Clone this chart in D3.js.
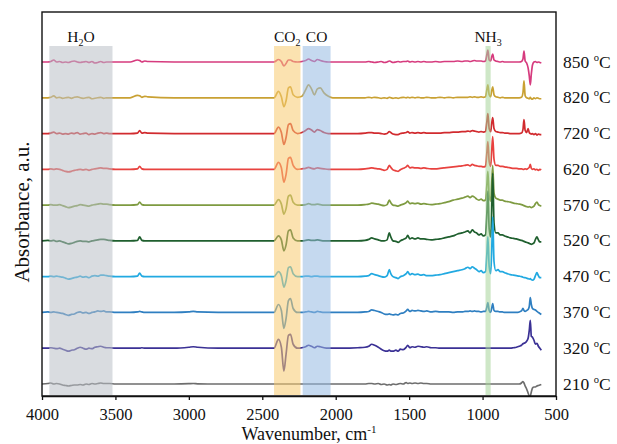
<!DOCTYPE html>
<html><head><meta charset="utf-8">
<script src="https://cdn.jsdelivr.net/npm/d3@7"></script>
<style>
body{margin:0;background:#fff}
svg{display:block}
text{font-family:"Liberation Serif","Times New Roman",serif;fill:#111}
</style>
</head><body>
<svg id="chart" width="617" height="444"></svg>
<script>
// ---- data ----
const wavenumbers = [4000,3960,3940,3920,3900,3880,3860,3840,3820,3800,3780,3760,3740,3720,3700,3680,3660,3640,3620,3600,3580,3560,3540,3500,
  3400,3350,3335,3320,3300,3280,3100,3000,2970,2940,2800,2500,
  2420,2390,2370,2353,2338,2322,2308,2290,2260,
  2230,2205,2185,2165,2145,2125,2105,2080,2050,2020,
  1950,1850,1800,1775,1755,1735,1710,1690,1670,1650,1635,1625,1610,1590,1575,1560,1540,1520,1510,1495,1480,1460,1440,1420,1400,1380,1350,1320,1290,1260,1230,1200,1170,1140,1120,1100,1085,1070,1055,1040,1025,1010,995,
  980,970,964,955,945,938,931,922,910,895,880,865,850,830,810,790,770,750,735,725,718,710,700,690,682,675,668,660,650,640,630,620,610,600];

const temperatures = ["210","320","370","470","520","570","620","720","820","850"];

const s210 = [0,0.5,1,0,0.5,0,-1,-1.5,-2,-1.5,-1,-1,-0.5,-1,0,-0.5,0.5,0,0.5,1,0.5,0.5,0.5,0,
  0,0,0,0,0,0,0,0.3,0.5,0.2,0,0,
  0,0,0,0,0,0,0,0,0,
  0,0,0,0,0,0,0,0,0,0,
  0,0,0,0.5,0.5,0,0.5,-0.5,0,-1,-0.5,-1,0,-0.5,0,0.5,0,1.5,0.5,1,0.5,1,0.5,1,0.5,0.5,0,0,0,0,0,0,0,0,0,0,0,0,0,0,0,0,0,
  0,0,0,0,0,0,0,0,0,0,0,0,0,0,0,0,0,0,1,2.5,1,-2,-5,-9,-12,-12,-8,-4,-3,-3,-2,-1.5,-1,-0.5];
const s320 = [0,0,0.5,0,-0.5,0,-1,-2,-3,-2,-1.5,0,1,0,-1,0,-0.5,1,1.5,2,1,0.5,0.5,0,
  0,0,0,0.5,0,0,0,1,1.5,1,0,0,
  0,9,1,-23,-6,13,14,4,0,
  0.5,1.5,3,2,0.5,2,1.5,0.5,0,0,
  0,0.5,1,2,4,3,1,-1,-2.5,-3,-2,-3,-3,-2,-3,-1,-1.5,1,3,0.5,1.5,1,2,1.5,1,1.5,0.5,0.5,0,0,0,0,0,0,0,0,0,0,0,0,0,0,0,
  0,0,0,0,0,0,0,0,0,0,0,0,0,0,0,0.5,1,2,3,4.5,5,5.5,7,10,18,28,12,11,8,4,5,2,0,-2];
const s370 = [0,0.5,0,0.5,0,-0.5,-1,-2,-3,-2,-1.5,0,0.5,-0.5,0,-1,0,0.5,1.5,1,1.5,0.5,0.5,0,
  0,0.5,1,0.5,0,0,0,0.5,1,0.5,0,0,
  0,8,2,-16,-6,12,14,4,0,
  0,0.5,1,0.5,0,1,0.5,0,0,0,
  0,0,0.5,1,2.5,2,1,0,-1.5,-2,-1.5,-2,-2.5,-2,-2.5,-1,-0.5,1.5,3,1,2,1.5,2,1.5,1,1.5,0.5,1,0.5,0.5,0.5,0,0.5,0.5,1,1,1.5,1,1.5,1,1,0.5,1,
  1,6,10,2,0,4,9,2,1,1,0.5,0.5,0,0,0,0,0,0.5,1.5,4,2,1,2,3,6,15,8,4,3,2.5,1,0,-1,-2];
const s470 = [0,0,0.5,0,0.5,0,-0.5,-1.5,-2.5,-2,-1,-0.5,0.5,-0.5,0,-1,0.5,1,0.5,1.5,1.5,1,0.5,0,
  0,0.5,3.5,0.5,0,0,0,0,0,0,0,0,
  0,5,1,-10.5,-4,9,10,3,0,
  0,0.5,0.5,0,0.5,0.5,0,0,0,0,
  0,0,0.5,1,3,2,1,0,-0.5,1,7,3,0,-1,-2,0,1,3,5,2,3,2,2.5,1.5,2,1,1,1.5,2,3,4,5,6,7,8,9.5,8,10,8.5,7,5,6,4,
  5,25,40,10,3,25,60,15,6,7,5,5,4,3,2,1.5,1,0.5,0,-0.5,-1,-1,-1.5,-2,-2.5,-2,-3,-3.5,-2.5,1,4,1,-1,-1];
const s520 = [0,0.5,0,0.5,-0.5,0,-1,-2,-3,-2.5,-1.5,-0.5,0,-0.5,-0.5,-1,0,0.5,1,1.5,1.5,1,0.5,0,
  0,0.5,4,0.5,0,0,0,0,0,0,0,0,
  0,5,1,-10,-4,10,11,3,0,
  0,0.5,1,0.5,0.5,1,0.5,0,0,0,
  0,0,0.5,1.5,3,2,1,0,0,1,8,4,0,-0.5,-1.5,0,1.5,3,5.5,2,3,2,3,2,2,1.5,1,1.5,2,3,4,5,7,8,9,10,8,11,9,8,6,7,5,
  6,30,50,12,4,30,68,18,8,8,6,6,5,4,3,2.5,2,1,0.5,0,-0.5,-1,-1.5,-2,-2.5,-3,-3.5,-3,-2,1.5,4,1,-1,-1];
const s570 = [0,0,0.5,0,0,0.5,-0.5,-1.5,-2.5,-2,-1,-0.5,0.5,0,-0.5,-1,0,0.5,1,1.5,1,1,0.5,0,
  0,0.5,3,0.5,0,0,0,0,0,0,0,0,
  0,5.5,1,-9,-3.5,9,10,3,0,
  0,0.5,1.5,0.5,0.5,1,0.5,0,0,0,
  0,0,0.5,1,2,1.5,1,0,-0.5,0.5,5,2.5,0,-0.5,-1,0,1,2.5,4,1.5,2,1.5,2,1,1.5,1,0.5,1,1.5,2.5,3.5,5,6,7,8,9,7.5,9,8,6,5,6,4.5,
  5,22,34,9,4,22,40,12,7,6,5,5,4,3.5,3,2,1.5,1,0.5,0,-0.5,-1,-1.5,-2,-1.5,-2,-2.5,-2,-1,1.5,3,0.5,-0.5,-1];
const s620 = [0,0,0.5,0,0.5,0,-1,-2,-2.5,-2,-1,-0.5,0,-0.5,0,-1,0,0.5,1,1.5,1,1,0.5,0,
  0,0.5,3,0.5,0,0,0,0,0,0,0,0,
  0,7,1.5,-13,-5,11,12,4,0,
  0.5,1,2,1,0.5,1.5,1,0.5,0,0,
  0,0,0.5,1,1.5,1,0.5,0,-1,0,4,2,-0.5,-1.5,-2,-0.5,1,2.5,4,1.5,2,1.5,1.5,1,1.5,1,0.5,0.5,1,1.5,2,2.5,3,3.5,4,4.5,3.5,5,4,3.5,3,3,2.5,
  3,18,28,8,3,18,33,10,4,4,3,3,2.5,2,1.5,1,1,0.5,0.5,0,0,0.5,0,1,2,5,1,0,0.5,-0.5,0,-1,0,-0.5];
const s720 = [0,0,0.5,1.5,0,0.5,-0.5,0,-0.5,0.5,0,1,-0.5,0,0.5,-1,0,-0.5,0.5,1,0,0.5,0,0,
  0,0.5,3,0.5,1,0.5,0,0,0,0,0,0,
  0,6.5,1,-11,-4,9,10,3,0,
  1,3,5,3.5,1.5,4,3,1,0,0,
  0,0,0.5,1,1,0.5,0.5,0,-0.5,0,2,1,-0.5,-1,-1,0,0.5,1,2,0.5,1,0.5,1,0.5,1,0.5,0.5,0.5,0.5,1,1,1.5,1.5,2,2,2.5,2,3,2.5,2,1.5,2,1.5,
  2,13,20,5,2,10,16,5,2,1.5,1,1,0.5,0.5,0,0,0,0,0.5,4,14,3,1,5,1,0,-0.5,0,-1,0,-1.5,-0.5,-1,-1];
const s820 = [0,0,0.5,2,0,0.5,-0.5,0,0.5,-0.5,0.5,1,0,-0.5,0,0.5,-1,-0.5,0,0.5,-0.5,0,0,0,
  0,2.5,2,0.5,1.5,1,0,0,0,0,0,0,
  0,6.5,1,-9,-3,10,11,3,0.5,
  1.5,8,13,9,3,9,10,5,1.5,0,
  0,0,0,0.5,0,0.5,0,-0.5,0,-0.5,0.5,0,-0.5,0,-0.5,0,0.5,0,0.5,0,0.5,0,0.5,0,0,0.5,0,0,0.5,0,0.5,0,0.5,0.5,0.5,0.5,1,0.5,1,0.5,0.5,1,0.5,
  1,9,13,3,1,7,11,3,1,0.5,0,0.5,0,0,0,0,0,0,0.5,5,17,2,0,-0.5,-1,0.5,-1,-1.5,0,-1,0,-0.5,-1,-1];
const s850 = [0,0,0.5,2,0,0.5,-0.5,0,-0.5,0.5,1,0,-0.5,0,0.5,-0.5,0.5,-1,-0.5,0.5,-0.5,0,0,0,
  0,2,1.5,0,1,0.5,0,0,0,0,0,0,
  0,2.5,0.5,-4,-1.5,2,2,0.5,0,
  0.5,1.5,3,1.5,0.5,2.5,1.5,0.5,0,0,
  0,0,0,0.5,0,-0.5,0,0.5,-0.5,0,1,0.5,-0.5,0,0.5,0,0.5,0.5,1,0,0.5,0,0.5,0,0.5,0,0,0.5,0,0.5,0.5,0.5,1,0.5,1,1,0.5,1,1.5,1,1,1,0.5,
  1,8,12,2,1,5,8,2,1,0.5,0,0.5,0,0,0,0,0,0,0.5,3,11,1,-1,-6,-14,-23,-12,-3,0,0.5,-0.5,0,-0.5,-1];

const seriesValues = [s210, s320, s370, s470, s520, s570, s620, s720, s820, s850];
const seriesColors = ["#6d6d6d","#3b3195","#2f7fc1","#21a9e1","#1f5f2e","#7e9b41","#e8423f","#d12b2f","#c9a133","#d63b7e"];

const xTicks = [4000,3500,3000,2500,2000,1500,1000,500];
const bandStarts = [3950, 2420, 2225, 980];
const bandEnds   = [3520, 2240, 2035, 945];
const bandColors = ["#b9bfc7","#f8cb70","#95b9e2","#a6d499"];
const bandLabelMain = ["H","CO","CO","NH"];
const bandLabelSub  = ["2","2","","3"];
const bandLabelTail = ["O","","",""];

// ---- layout ----
const svg = d3.select("#chart");
const plotLeft = 42, plotRight = 556, plotTop = 12, plotBottom = 396;
const step = 36;
const x = d3.scaleLinear().domain([4000, 500]).range([plotLeft, plotRight]);
const y = d3.scaleLinear().domain([0, 9 * step]).range([384, 62]);

// spectra (top first so lower ones overlay)
const line = d3.line()
  .x(d => x(d[0]))
  .y(d => y(d[1]))
  .curve(d3.curveMonotoneX);

const order = d3.range(seriesValues.length).reverse();
svg.append("g").selectAll("path").data(order).join("path")
  .attr("fill", "none")
  .attr("stroke", i => seriesColors[i])
  .attr("stroke-width", 1.7)
  .attr("stroke-linejoin", "round")
  .attr("d", i => line(wavenumbers.map((w, k) => [w, i * step + seriesValues[i][k]])));

// shaded bands on top, semi transparent
const bandTop = 46, bandBottom = 395;
svg.append("g").selectAll("rect").data(d3.range(bandStarts.length)).join("rect")
  .attr("x", i => x(bandStarts[i]))
  .attr("width", i => x(bandEnds[i]) - x(bandStarts[i]))
  .attr("y", bandTop)
  .attr("height", bandBottom - bandTop)
  .attr("fill", i => bandColors[i])
  .attr("fill-opacity", 0.55);

// band labels
const bl = svg.append("g").selectAll("text").data(d3.range(bandStarts.length)).join("text")
  .attr("x", i => (x(bandStarts[i]) + x(bandEnds[i])) / 2)
  .attr("y", 42)
  .attr("text-anchor", "middle")
  .attr("font-size", 15.5);
bl.append("tspan").text(i => bandLabelMain[i]);
bl.append("tspan").attr("font-size", 10).attr("dy", i => bandLabelSub[i] ? 4 : 0).text(i => bandLabelSub[i]);
bl.append("tspan").attr("dy", i => bandLabelSub[i] ? -4 : 0).text(i => bandLabelTail[i]);

// frame
svg.append("rect")
  .attr("x", plotLeft).attr("y", plotTop)
  .attr("width", plotRight - plotLeft).attr("height", plotBottom - plotTop)
  .attr("fill", "none").attr("stroke", "#111").attr("stroke-width", 1.4);

// x axis
const ax = svg.append("g").attr("transform", `translate(0,${plotBottom})`)
  .call(d3.axisBottom(x).tickValues(xTicks).tickSize(4).tickSizeOuter(0).tickPadding(8).tickFormat(d3.format("d")));
ax.select(".domain").attr("stroke", "#111").attr("stroke-width", 1.4);
ax.selectAll(".tick line").attr("stroke", "#111").attr("stroke-width", 1.3);
ax.selectAll(".tick text").attr("font-family", '"Liberation Serif","Times New Roman",serif')
  .attr("font-size", 16.5).attr("fill", "#111");

// axis titles
const xt = svg.append("text").attr("x", 309).attr("y", 440).attr("text-anchor", "middle").attr("font-size", 18);
xt.append("tspan").text("Wavenumber, cm");
xt.append("tspan").attr("font-size", 11).attr("dy", -7).text("-1");

svg.append("text")
  .attr("transform", "translate(29,212) rotate(-90)")
  .attr("text-anchor", "middle").attr("font-size", 21)
  .text("Absorbance, a.u.");

// temperature labels
const tl = svg.append("g").selectAll("text").data(d3.range(temperatures.length)).join("text")
  .attr("x", 563)
  .attr("y", i => y(i * step) + 5.5)
  .attr("font-size", 17.5);
tl.append("tspan").text(i => temperatures[i] + " ");
tl.append("tspan").attr("font-size", 10.5).attr("dy", -7).text("o");
tl.append("tspan").attr("dy", 7).text("C");
</script>
</body></html>
